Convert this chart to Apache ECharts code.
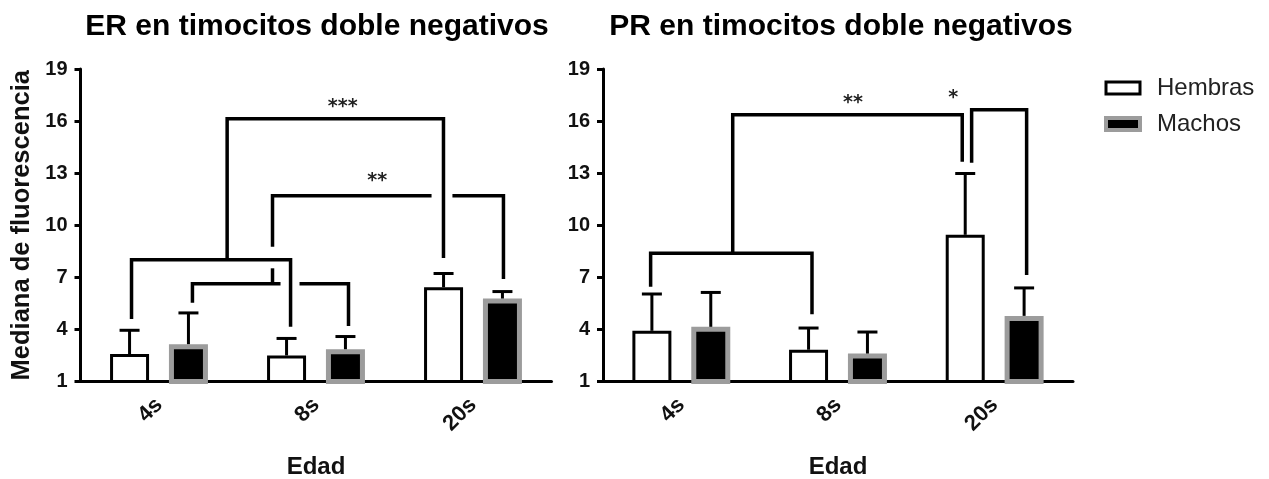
<!DOCTYPE html>
<html><head><meta charset="utf-8">
<script src="https://cdn.jsdelivr.net/npm/echarts@6/dist/echarts.min.js"></script>
<style>html,body{margin:0;background:#fff}#c{width:1269px;height:479px}</style>
</head><body><div id="c"></div>
<script>
// ---------- data ----------
const categories = ['4s', '8s', '20s'];
const yTicks = [1, 4, 7, 10, 13, 16, 19];
const seriesNames = ['Hembras', 'Machos'];
const titleER = 'ER en timocitos doble negativos';
const titlePR = 'PR en timocitos doble negativos';
const yName = 'Mediana de fluorescencia';
const xName = 'Edad';

// bar heights (median) and upper end of the error bar
const erHembras    = [2.58, 2.50, 6.43];
const erHembrasTop = [3.95, 3.48, 7.22];
const erMachos     = [3.15, 2.86, 5.78];
const erMachosTop  = [4.95, 3.59, 6.18];
const prHembras    = [3.92, 2.83, 9.45];
const prHembrasTop = [6.04, 4.08, 12.98];
const prMachos     = [4.15, 2.61, 4.78];
const prMachosTop  = [6.13, 3.85, 6.39];

// significance brackets: polylines in data units [categoryPosition, value]
const erBrackets = [
  [[-0.175, 4.60], [-0.175, 8.01], [0.838, 8.01], [0.838, 4.15]],
  [[0.434, 8.01], [0.434, 16.13], [1.812, 16.13], [1.812, 8.11]],
  [[0.213, 5.54], [0.213, 6.63], [0.774, 6.63]],
  [[0.895, 6.63], [1.207, 6.63], [1.207, 4.20]],
  [[0.723, 6.63], [0.723, 7.52]],
  [[0.723, 8.76], [0.723, 11.70], [1.736, 11.70]],
  [[1.869, 11.70], [2.194, 11.70], [2.194, 6.90]]
];
const erStars = [['***', 1.17, 16.81], ['**', 1.39, 12.53]];

const prBrackets = [
  [[-0.196, 6.46], [-0.196, 8.39], [0.834, 8.39], [0.834, 4.87]],
  [[0.328, 8.39], [0.328, 16.36], [1.793, 16.36], [1.793, 13.66]],
  [[1.853, 13.60], [1.853, 16.65], [2.204, 16.65], [2.204, 7.13]]
];
const prStars = [['**', 1.096, 17.02], ['*', 1.736, 17.35]];

// ---------- styles ----------
const FONT = 'Liberation Sans, Arial, sans-serif';
const BAR_W = 39;
const BAR_OFF = BAR_W * 1.51 / 2;
const hembraStyle = { color: '#ffffff', borderColor: '#000000', borderWidth: 3 };
const machoStyle = { color: '#000000', borderColor: '#9c9c9c', borderWidth: 5 };

function catAxis(gi) {
  return {
    type: 'category', gridIndex: gi, data: categories,
    axisLine: { onZero: false, lineStyle: { color: '#000', width: 3 } },
    axisTick: { alignWithLabel: true, length: 7, lineStyle: { color: '#000', width: 3 } },
    axisLabel: { rotate: 45, margin: 20, color: '#111', fontSize: 22, fontWeight: 'bold', fontFamily: FONT },
    name: xName, nameLocation: 'middle', nameGap: 74,
    nameTextStyle: { color: '#111', fontSize: 24, fontWeight: 'bold', fontFamily: FONT },
    splitLine: { show: false }
  };
}
function posAxis(gi) {
  return { type: 'value', gridIndex: gi, min: -0.5, max: 2.5, show: false,
    axisLine: { onZero: false } };
}
function valAxis(gi, withName) {
  const a = {
    type: 'value', gridIndex: gi, min: 1, max: 19,
    axisLine: { show: true, onZero: false, lineStyle: { color: '#000', width: 3 } },
    axisTick: { show: true, length: 6, customValues: yTicks, lineStyle: { color: '#000', width: 3 } },
    axisLabel: { customValues: yTicks, margin: 13, color: '#111', fontSize: 20, fontWeight: 'bold', fontFamily: FONT },
    splitLine: { show: false }
  };
  if (withName) {
    a.name = yName; a.nameLocation = 'middle'; a.nameGap = 46;
    a.nameTextStyle = { color: '#111', fontSize: 25.5, fontWeight: 'bold', fontFamily: FONT };
  }
  return a;
}
function bars(name, values, gi, style) {
  return {
    type: 'bar', name: name, xAxisIndex: gi, yAxisIndex: gi, data: values,
    barWidth: BAR_W, barGap: '51%', itemStyle: style, z: 2, clip: true
  };
}
function errorBars(means, tops, gi, offset) {
  return {
    type: 'custom', xAxisIndex: gi, yAxisIndex: gi, z: 3,
    data: means.map((m, i) => [i, m, tops[i]]),
    encode: { x: 0, y: 2 },
    renderItem: function (params, api) {
      const p1 = api.coord([api.value(0), api.value(1)]);
      const p2 = api.coord([api.value(0), api.value(2)]);
      const x = p1[0] + offset;
      const st = { stroke: '#000', lineWidth: 3, fill: null };
      return {
        type: 'group', children: [
          { type: 'line', shape: { x1: x, y1: p1[1], x2: x, y2: p2[1] }, style: st },
          { type: 'line', shape: { x1: x - 10, y1: p2[1], x2: x + 10, y2: p2[1] }, style: st }
        ]
      };
    }
  };
}
function brackets(list, stars, gi) {
  return {
    type: 'custom', xAxisIndex: gi + 2, yAxisIndex: gi, z: 4,
    data: list.map((b, i) => [i]),
    encode: { x: 0 },
    renderItem: function (params, api) {
      const pts = list[params.dataIndex].map(p => api.coord(p));
      const children = [{
        type: 'polyline', shape: { points: pts },
        style: { stroke: '#000', lineWidth: 3.5, fill: null, lineJoin: 'miter', lineCap: 'butt' }
      }];
      if (params.dataIndex === 0) {
        stars.forEach(s => {
          const p = api.coord([s[1], s[2]]);
          children.push({
            type: 'text', x: p[0], y: p[1],
            style: { text: s[0], fontSize: 19, fontWeight: 'bold', fontFamily: 'DejaVu Sans', fill: '#222', align: 'center', verticalAlign: 'middle' }
          });
        });
      }
      return { type: 'group', children: children };
    }
  };
}

const option = {
  animation: false,
  backgroundColor: '#fff',
  title: [
    { text: titleER, left: 312, top: 7, textAlign: 'center',
      textStyle: { fontSize: 30, fontWeight: 'bold', fontFamily: FONT, color: '#000' } },
    { text: titlePR, left: 836, top: 7, textAlign: 'center',
      textStyle: { fontSize: 30, fontWeight: 'bold', fontFamily: FONT, color: '#000' } }
  ],
  legend: {
    orient: 'vertical', left: 1099, top: 71, itemWidth: 34, itemHeight: 12, itemGap: 12,
    textStyle: { fontSize: 24, fontFamily: FONT, color: '#222', padding: [0, 0, 0, 12] },
    data: [
      { name: seriesNames[0], itemStyle: hembraStyle, icon: 'rect' },
      { name: seriesNames[1], itemStyle: { color: '#000', borderColor: '#9c9c9c', borderWidth: 4 }, icon: 'rect' }
    ]
  },
  grid: [
    { left: 80.5, top: 69, width: 471, height: 312.5, containLabel: false, outerBoundsMode: 'none' },
    { left: 603, top: 69, width: 470, height: 312.5, containLabel: false, outerBoundsMode: 'none' }
  ],
  xAxis: [catAxis(0), catAxis(1), posAxis(0), posAxis(1)],
  yAxis: [valAxis(0, true), valAxis(1, false)],
  series: [
    bars(seriesNames[0], erHembras, 0, hembraStyle),
    bars(seriesNames[1], erMachos, 0, machoStyle),
    bars(seriesNames[0], prHembras, 1, hembraStyle),
    bars(seriesNames[1], prMachos, 1, machoStyle),
    errorBars(erHembras, erHembrasTop, 0, -BAR_OFF),
    errorBars(erMachos, erMachosTop, 0, BAR_OFF),
    errorBars(prHembras, prHembrasTop, 1, -BAR_OFF),
    errorBars(prMachos, prMachosTop, 1, BAR_OFF),
    brackets(erBrackets, erStars, 0),
    brackets(prBrackets, prStars, 1)
  ]
};
const chart = echarts.init(document.getElementById('c'), null, { renderer: 'canvas' });
chart.setOption(option);
</script>
</body></html>
